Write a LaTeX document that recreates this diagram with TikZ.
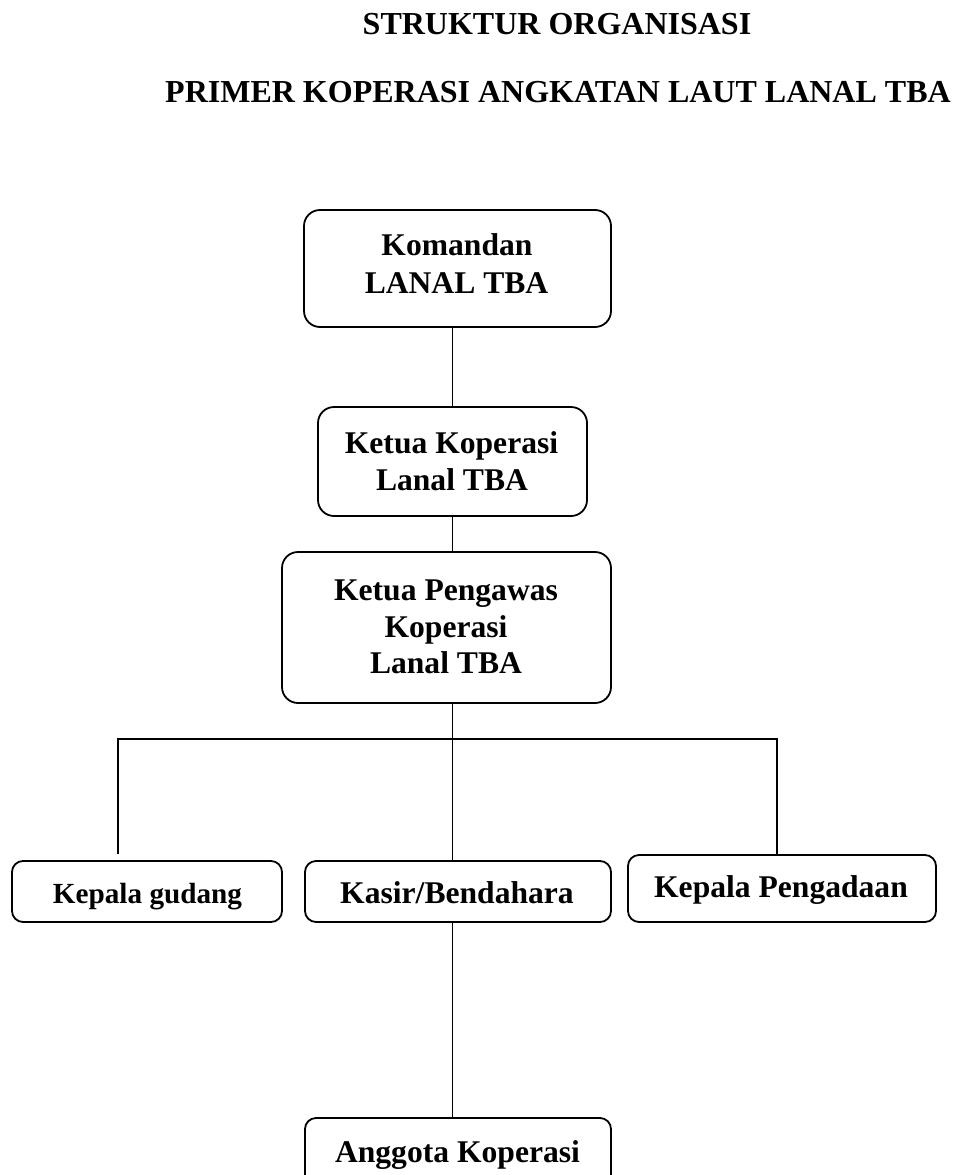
\documentclass[tikz,border=0pt]{standalone}
\usepackage{fontspec}
\setmainfont{Liberation Serif}
\begin{document}
\begin{tikzpicture}[x=1pt,y=-1pt]
\tikzset{
  box/.style={draw, line width=1.8pt, rounded corners=16pt, inner sep=0pt},
  smallbox/.style={box, rounded corners=11pt},
  txt/.style={font=\bfseries\fontsize{31.6}{37}\selectfont, inner sep=0pt, anchor=base},
  smalltxt/.style={txt, font=\bfseries\fontsize{29.2}{35}\selectfont},
  titletxt/.style={txt, font=\bfseries\fontsize{32}{38}\selectfont},
  conn/.style={line width=1.4pt},
  branch/.style={line width=1.9pt}
}
\clip (0,0) rectangle (957,1175);
\useasboundingbox (0,0) rectangle (957,1175);

% titles
\node[titletxt] (t1) at (557,34) {STRUKTUR ORGANISASI};
\node[titletxt] (t2) at (558,102) {PRIMER KOPERASI ANGKATAN LAUT LANAL TBA};

% boxes
\node[box, minimum width=307pt, minimum height=117pt] (kom) at (457.5,268.5) {};
\node[box, minimum width=269pt, minimum height=109pt] (ketua) at (452.5,461.5) {};
\node[box, minimum width=329pt, minimum height=151pt] (peng) at (446.5,627.5) {};
\node[smallbox, minimum width=270pt, minimum height=61pt] (gud) at (147,891.5) {};
\node[smallbox, minimum width=306pt, minimum height=61pt] (kas) at (458,891.5) {};
\node[smallbox, minimum width=308pt, minimum height=67pt] (pgd) at (782,888.5) {};
\node[smallbox, minimum width=306pt, minimum height=80pt] (ang) at (458,1158) {};

% texts
\node[txt] (komA) at (457,255) {Komandan};
\node[txt] (komB) at (456.5,293) {LANAL TBA};
\node[txt] (ketA) at (451.5,453) {Ketua Koperasi};
\node[txt] (ketB) at (452,490) {Lanal TBA};
\node[txt] (pengA) at (446,600) {Ketua Pengawas};
\node[txt] (pengB) at (446,637) {Koperasi};
\node[txt] (pengC) at (446,673) {Lanal TBA};
\node[smalltxt] (gudT) at (147.5,903) {Kepala gudang};
\node[txt] (kasT) at (457,903) {Kasir/Bendahara};
\node[txt] (pgdT) at (781,897) {Kepala Pengadaan};
\node[txt] (angT) at (457.5,1162) {Anggota Koperasi};

% connectors
\coordinate (hl) at (118,739);
\coordinate (hr) at (777,739);
\coordinate (ld) at (118,854);
\draw[conn] (kom.south -| ketua.north) -- (ketua.north);
\draw[conn] (ketua.south) -- (ketua.south |- peng.north);
\draw[conn] (ketua.south |- peng.south) -- (ketua.south |- kas.north);
\draw[branch] (ld) -- (hl) -- (hr) -- (hr |- pgd.north);
\draw[conn] (ketua.south |- kas.south) -- (ketua.south |- ang.north);
\end{tikzpicture}
\end{document}
